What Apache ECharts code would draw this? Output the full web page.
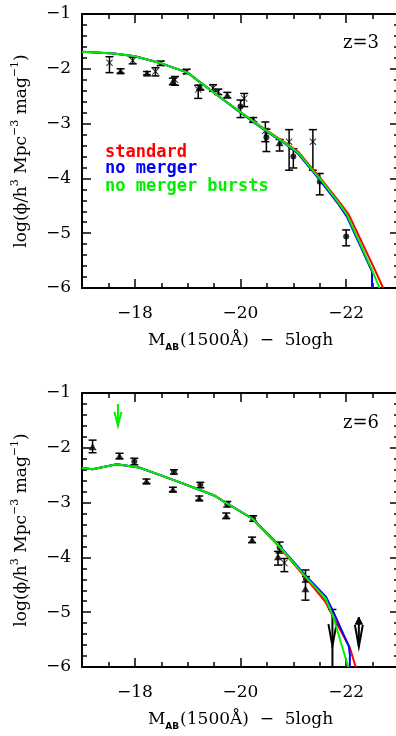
<!DOCTYPE html>
<html>
<head>
<meta charset="utf-8">
<script src="https://cdn.jsdelivr.net/npm/echarts@6/dist/echarts.min.js"></script>
<style>
html,body{margin:0;padding:0;background:#fff;}
#c{width:396px;height:736px;}
</style>
</head>
<body>
<div id="c"></div>
<script>
// ---------- tick values ----------
const xMajor = [-18, -20, -22];
const xMinor = [-17.5, -18.5, -19, -19.5, -20.5, -21, -21.5, -22.5];
const yMajor = [-1, -2, -3, -4, -5, -6];
const yMinor = [-1.2, -1.4, -1.6, -1.8, -2.2, -2.4, -2.6, -2.8, -3.2, -3.4, -3.6, -3.8,
                -4.2, -4.4, -4.6, -4.8, -5.2, -5.4, -5.6, -5.8];

// ---------- z=3 model curves [M, logphi] ----------
const z3NoBursts = [[-17.0,-1.69],[-17.6,-1.72],[-18.0,-1.77],[-18.5,-1.90],[-19.0,-2.07],[-19.2,-2.22],
  [-19.6,-2.51],[-20.0,-2.79],[-20.47,-3.12],[-20.85,-3.36],[-21.1,-3.54],[-21.39,-3.88],[-21.55,-4.06],
  [-21.86,-4.45],[-22.02,-4.67],[-22.49,-5.67],[-22.63,-6.0]];
const z3Standard = [[-17.0,-1.69],[-17.6,-1.72],[-18.0,-1.77],[-18.5,-1.90],[-19.0,-2.07],[-19.2,-2.22],
  [-19.6,-2.51],[-20.0,-2.79],[-20.47,-3.11],[-20.85,-3.35],[-21.1,-3.52],[-21.39,-3.86],[-21.55,-4.04],
  [-21.88,-4.44],[-22.05,-4.66],[-22.52,-5.62],[-22.70,-6.0]];
const z3NoMerger = [[-17.0,-1.69],[-17.6,-1.72],[-18.0,-1.77],[-18.5,-1.90],[-19.0,-2.07],[-19.2,-2.22],
  [-19.6,-2.51],[-20.0,-2.80],[-20.47,-3.13],[-20.85,-3.37],[-21.1,-3.56],[-21.39,-3.90],[-21.55,-4.09],
  [-21.86,-4.48],[-22.02,-4.71],[-22.49,-5.70],[-22.49,-6.0]];

// ---------- z=3 data [M, logphi, errLow, errHigh] ----------
const z3Dots = [[-20.0,-2.69,-2.57,-2.89],[-20.49,-3.25,-3.10,-3.51],[-21.0,-3.60,-3.46,-3.81],
  [-21.5,-4.06,-3.91,-4.30],[-22.0,-5.06,-4.94,-5.23]];
const z3Crosses = [[-17.52,-1.89,-1.78,-2.07],[-17.96,-1.85,-1.79,-1.91],[-18.39,-2.05,-1.98,-2.13],
  [-18.49,-1.90,-1.86,-1.94],[-18.76,-2.20,-2.14,-2.30],[-18.98,-2.05,-2.01,-2.09],[-19.2,-2.38,-2.30,-2.54],
  [-19.48,-2.35,-2.29,-2.41],[-19.58,-2.42,-2.37,-2.47],[-20.07,-2.54,-2.45,-2.69],[-20.47,-3.13,-2.97,-3.33],
  [-20.92,-3.33,-3.11,-3.85],[-21.37,-3.33,-3.11,-3.85]];
const z3Triangles = [[-17.73,-2.04,-2.00,-2.08],[-18.23,-2.08,-2.05,-2.11],[-18.72,-2.23,-2.17,-2.29],
  [-19.24,-2.34,-2.30,-2.38],[-19.75,-2.48,-2.43,-2.53],[-20.24,-2.93,-2.89,-2.97],[-20.74,-3.35,-3.29,-3.50]];

// ---------- z=6 model curves ----------
const z6NoBursts = [[-17.0,-2.37],[-17.2,-2.39],[-17.45,-2.34],[-17.66,-2.30],[-18.08,-2.36],[-18.74,-2.59],
  [-19.21,-2.76],[-19.5,-2.87],[-19.72,-3.00],[-20.22,-3.29],[-20.7,-3.76],[-21.23,-4.35],[-21.61,-4.75],
  [-21.75,-5.07],[-22.04,-6.0]];
const z6Standard = [[-17.0,-2.37],[-17.2,-2.39],[-17.45,-2.34],[-17.66,-2.30],[-18.08,-2.36],[-18.74,-2.59],
  [-19.21,-2.76],[-19.5,-2.87],[-19.72,-3.00],[-20.22,-3.29],[-20.7,-3.77],[-21.23,-4.37],[-21.6,-4.80],
  [-21.75,-5.08],[-22.07,-5.65],[-22.18,-6.0]];
const z6NoMerger = [[-17.0,-2.37],[-17.2,-2.39],[-17.45,-2.34],[-17.66,-2.30],[-18.08,-2.36],[-18.74,-2.59],
  [-19.21,-2.76],[-19.5,-2.87],[-19.72,-3.00],[-20.22,-3.29],[-20.7,-3.75],[-21.23,-4.33],[-21.62,-4.72],
  [-21.76,-5.00],[-22.05,-5.62],[-22.07,-5.78],[-22.07,-6.0]];

// ---------- z=6 data ----------
const z6Triangles = [[-17.2,-1.98,-1.86,-2.09],[-17.71,-2.15,-2.10,-2.20],[-18.22,-2.61,-2.57,-2.65],
  [-18.72,-2.76,-2.72,-2.80],[-19.22,-2.92,-2.88,-2.96],[-19.73,-3.24,-3.19,-3.29],[-20.22,-3.68,-3.63,-3.73],
  [-20.71,-3.99,-3.89,-4.14],[-21.23,-4.57,-4.23,-4.78]];
const z6Dots = [[-17.99,-2.25,-2.19,-2.31],[-18.74,-2.44,-2.40,-2.48],[-19.24,-2.68,-2.63,-2.73],
  [-19.75,-3.03,-2.98,-3.08],[-20.24,-3.29,-3.24,-3.34],[-20.74,-3.82,-3.72,-3.92],[-21.24,-4.40,-4.35,-4.45]];
const z6Crosses = [[-20.83,-4.10,-4.02,-4.26]];
// limits: [M, top, arrow tip, line bottom, kind]
const z6Limits = [[-21.74,-4.95,-5.62,-6.0,0],[-22.24,-5.09,-5.63,-5.63,1]];
const z6GreenArrow = [[-17.68,-1.20,-1.60,-1.60,2]];

// ---------- labels ----------
const legendNames = ['standard', 'no merger', 'no merger bursts'];
const legendColors = ['#ff0000', '#0000ff', '#00f000'];
const panelLabels = ['z=3', 'z=6'];

const SERIF = 'DejaVu Serif';
const fmt = v => String(v).replace('-', '\u2212');

function axesFor(g) {
  const line = {color:'#000', width:2};
  const tickStyle = {color:'#000', width:1.5};
  const xs = [], ys = [];
  const xBase = {gridIndex:g, type:'value', min:-23, max:-17, inverse:true, splitLine:{show:false}};
  const yBase = {gridIndex:g, type:'value', min:-6, max:-1, splitLine:{show:false}};
  ['bottom','top'].forEach((pos, i) => {
    xs.push(Object.assign({}, xBase, {
      position:pos,
      axisLine:{show:true, onZero:false, lineStyle:line},
      axisTick:{show:true, inside:true, length:9, customValues:xMajor, lineStyle:tickStyle},
      axisLabel:{show:i===0, customValues:xMajor, formatter:fmt, color:'#000', fontSize:17, fontFamily:SERIF, margin:17},
      name: i===0 ? '{a|M}{sub|AB}{a|(1500Å)  \u2212  5logh}' : '',
      nameLocation:'middle', nameGap:42,
      nameTextStyle:{color:'#000', rich:{
        a:{fontFamily:SERIF, fontSize:17, color:'#000', lineHeight:22},
        sub:{fontFamily:'DejaVu Sans', fontWeight:'bold', fontSize:9, color:'#000', verticalAlign:'bottom', lineHeight:14, padding:[0,1,0,0]}
      }}
    }));
    xs.push(Object.assign({}, xBase, {
      position:pos,
      axisLine:{show:false, onZero:false},
      axisTick:{show:true, inside:true, length:5, customValues:xMinor, lineStyle:tickStyle},
      axisLabel:{show:false}
    }));
  });
  ['left','right'].forEach((pos, i) => {
    ys.push(Object.assign({}, yBase, {
      position:pos,
      axisLine:{show:true, onZero:false, lineStyle:line},
      axisTick:{show:true, inside:true, length:9, customValues:yMajor, lineStyle:tickStyle},
      axisLabel:{show:i===0, customValues:yMajor, formatter:fmt, color:'#000', fontSize:17, fontFamily:SERIF, margin:11},
      name: i===0 ? '{a|log(ϕ/h}{s|3}{a| Mpc}{s|\u22123}{a| mag}{s|\u22121}{a|)}' : '',
      nameLocation:'middle', nameRotate:90, nameGap:48,
      nameTextStyle:{color:'#000', rich:{
        a:{fontFamily:SERIF, fontSize:17, color:'#000', lineHeight:24},
        s:{fontFamily:SERIF, fontSize:11, color:'#000', verticalAlign:'top', lineHeight:12}
      }}
    }));
    ys.push(Object.assign({}, yBase, {
      position:pos,
      axisLine:{show:false, onZero:false},
      axisTick:{show:true, inside:true, length:5, customValues:yMinor, lineStyle:tickStyle},
      axisLabel:{show:false}
    }));
  });
  return {xs, ys};
}

const a0 = axesFor(0), a1 = axesFor(1);
const xAxes = a0.xs.concat(a1.xs);   // grid0: 0..3, grid1: 4..7
const yAxes = a0.ys.concat(a1.ys);

function errRender(params, api) {
  const x = api.value(0);
  const lo = api.coord([x, api.value(2)]);
  const hi = api.coord([x, api.value(3)]);
  const w = 4;
  const st = {stroke:'#000', lineWidth:1.5};
  return {type:'group', children:[
    {type:'line', shape:{x1:lo[0], y1:lo[1], x2:hi[0], y2:hi[1]}, style:st},
    {type:'line', shape:{x1:lo[0]-w, y1:lo[1], x2:lo[0]+w, y2:lo[1]}, style:st},
    {type:'line', shape:{x1:hi[0]-w, y1:hi[1], x2:hi[0]+w, y2:hi[1]}, style:st}
  ]};
}

function limitRender(params, api) {
  const x = api.value(0);
  const kind = api.value(4);
  const top = api.coord([x, api.value(1)]);
  const tip = api.coord([x, api.value(2)]);
  const bot = api.coord([x, api.value(3)]);
  const col = kind === 2 ? '#00f000' : '#000';
  const st = {stroke:col, lineWidth:2, fill:'none'};
  const ch = [{type:'line', shape:{x1:top[0], y1:top[1], x2:bot[0], y2:bot[1]}, style:st}];
  const headLen = kind === 2 ? 14 : 22;
  const hw = kind === 2 ? 3.5 : 4;
  ch.push({type:'polyline', shape:{points:[[tip[0]-hw, tip[1]-headLen],[tip[0], tip[1]],[tip[0]+hw, tip[1]-headLen]]}, style:st});
  if (kind === 0) {
    ch.push({type:'line', shape:{x1:top[0]-4, y1:top[1], x2:top[0]+4, y2:top[1]}, style:{stroke:col, lineWidth:1.5}});
  } else if (kind === 1) {
    ch.push({type:'polygon', shape:{points:[[top[0]-3.5, top[1]+7],[top[0], top[1]],[top[0]+3.5, top[1]+7]]}, style:{fill:col, stroke:col, lineWidth:1}});
  }
  return {type:'group', children:ch};
}

const CROSS = 'path://M0,1L1,0L5,4L9,0L10,1L6,5L10,9L9,10L5,6L1,10L0,9L4,5Z';
const pts = arr => arr.map(d => [d[0], d[1]]);

function panelSeries(xi, yi, curves, dots, crosses, tris) {
  const s = [];
  [dots, crosses, tris].forEach(d => {
    if (d.length) s.push({type:'custom', xAxisIndex:xi, yAxisIndex:yi, renderItem:errRender, data:d, encode:{x:0, y:1}, z:3, silent:true});
  });
  s.push({type:'scatter', xAxisIndex:xi, yAxisIndex:yi, data:pts(dots), symbol:'circle', symbolSize:6, itemStyle:{color:'#000'}, z:4});
  s.push({type:'scatter', xAxisIndex:xi, yAxisIndex:yi, data:pts(crosses), symbol:CROSS, symbolSize:7, itemStyle:{color:'#000'}, z:4});
  s.push({type:'scatter', xAxisIndex:xi, yAxisIndex:yi, data:pts(tris), symbol:'triangle', symbolSize:[8,7], itemStyle:{color:'#000'}, z:4});
  curves.forEach((c, i) => {
    s.push({type:'line', name:legendNames[i], xAxisIndex:xi, yAxisIndex:yi, data:c, showSymbol:false, symbol:'none',
      lineStyle:{color:legendColors[i], width:2}, itemStyle:{color:legendColors[i]}, z:5+i, clip:true});
  });
  return s;
}

let series = panelSeries(0, 0, [z3Standard, z3NoMerger, z3NoBursts], z3Dots, z3Crosses, z3Triangles)
  .concat(panelSeries(4, 4, [z6Standard, z6NoMerger, z6NoBursts], z6Dots, z6Crosses, z6Triangles));
series.push({type:'custom', xAxisIndex:4, yAxisIndex:4, renderItem:limitRender, data:z6Limits.concat(z6GreenArrow), encode:{x:0, y:1}, z:6, silent:true});

const legendY = [152.5, 169, 186.5];
const graphics = legendNames.map((n, i) => ({
  type:'text', x:105, y:legendY[i], z:10,
  style:{text:n, fill:legendColors[i], font:'bold 17px "DejaVu Sans Mono"', verticalAlign:'middle', align:'left'}
})).concat(panelLabels.map((t, i) => ({
  type:'text', x:343, y:[43, 423][i], z:10,
  style:{text:t, fill:'#000', font:'18px "DejaVu Serif"', verticalAlign:'middle', align:'left'}
})));

const chart = echarts.init(document.getElementById('c'), null, {renderer:'canvas'});
chart.setOption({
  animation:false,
  backgroundColor:'#fff',
  grid:[
    {left:82, top:14, width:317, height:274, containLabel:false, outerBoundsMode:'none'},
    {left:82, top:393, width:317, height:274, containLabel:false, outerBoundsMode:'none'}
  ],
  xAxis:xAxes,
  yAxis:yAxes,
  graphic:graphics,
  series:series
});
</script>
</body>
</html>
